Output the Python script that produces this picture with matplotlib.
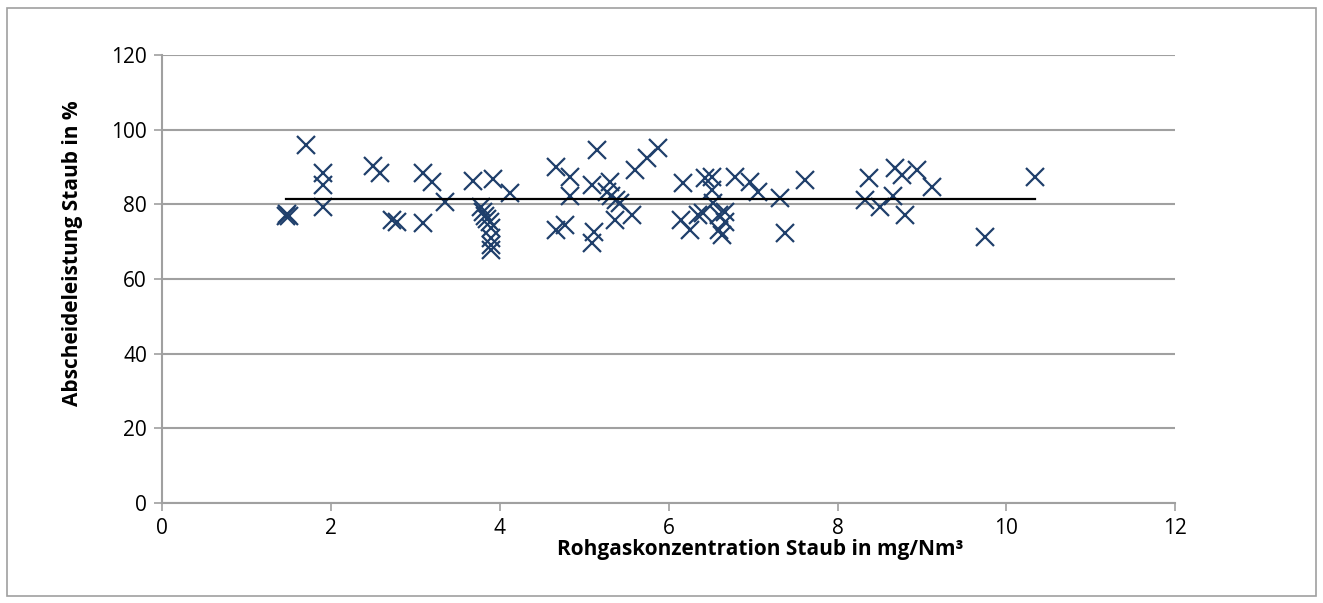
import matplotlib.pyplot as plt
import numpy as np

# Rohgaskonzentration Staub (mg/Nm3) / Abscheideleistung Staub (%)
rohgas = [1.47, 1.48, 1.50, 1.70, 1.90, 1.90, 1.90, 2.50, 2.58, 2.72, 2.78,
          3.09, 3.09, 3.19, 3.35, 3.68, 3.78, 3.80, 3.82, 3.85, 3.88, 3.90,
          3.90, 3.90, 3.90, 3.92, 4.12, 4.67, 4.83, 4.83, 4.67, 4.77, 5.09,
          5.11, 5.09, 5.15, 5.30, 5.27, 5.32, 5.38, 5.42, 5.36, 5.56, 5.60,
          5.74, 5.87, 6.17, 6.43, 6.51, 6.51, 6.79, 6.96, 7.06, 7.32, 7.62,
          7.38, 6.15, 6.25, 6.35, 6.41, 6.53, 6.59, 6.67, 6.67, 6.63, 6.60,
          8.37, 8.33, 8.50, 8.66, 8.68, 8.76, 8.94, 9.12, 8.80, 9.75, 10.34]
abscheide = [77.0, 77.5, 76.8, 96.0, 88.5, 85.2, 79.2, 90.4, 88.3, 75.8, 75.4,
             88.3, 75.1, 86.1, 80.7, 86.3, 79.2, 78.0, 77.0, 76.0, 75.4, 73.6,
             71.0, 69.1, 67.8, 86.7, 83.0, 90.1, 87.4, 82.1, 73.1, 74.5, 85.2,
             72.7, 69.6, 94.6, 86.1, 83.4, 82.1, 81.2, 80.3, 75.8, 77.1, 89.2,
             92.3, 95.0, 85.6, 87.0, 87.4, 83.8, 87.4, 86.1, 83.4, 81.6, 86.5,
             72.2, 75.8, 73.1, 77.1, 77.6, 80.3, 77.1, 78.0, 75.4, 71.8, 73.0,
             87.0, 81.2, 79.4, 82.1, 89.7, 87.9, 89.2, 84.7, 77.1, 71.3, 87.4]
mittelwert = 81.5

x_ticks = [0, 2, 4, 6, 8, 10, 12]
y_ticks = [0, 20, 40, 60, 80, 100, 120]

plt.rcParams['font.family'] = ['Open Sans', 'DejaVu Sans']
grey = '#a0a0a0'

fig = plt.figure(figsize=(13.23, 6.03), dpi=100)
ax = fig.add_axes([0.1227, 0.1658, 0.7655, 0.743])

ax.grid(axis='y', color=grey, linewidth=1.5, zorder=0)
ax.plot(rohgas, abscheide, 'x', color='#1f3f6b', markersize=13,
        markeredgewidth=1.6, linestyle='none', zorder=3)
ax.plot([min(rohgas), max(rohgas)], [mittelwert, mittelwert],
        color='black', linewidth=1.6, zorder=4)

ax.set_xlim(0, 12)
ax.set_ylim(0, 120)
ax.set_xticks(x_ticks)
ax.set_yticks(y_ticks)
ax.tick_params(direction='out', length=6, width=1.2, color=grey,
               labelsize=15, pad=5)
for s in ['top', 'right']:
    ax.spines[s].set_visible(False)
for s in ['left', 'bottom']:
    ax.spines[s].set_color(grey)
    ax.spines[s].set_linewidth(1.5)

fig.text(0.575, 0.088, 'Rohgaskonzentration Staub in mg/Nm³', ha='center',
         va='center', fontsize=15, fontweight='bold')
fig.text(0.055, 0.58, 'Abscheideleistung Staub in %', ha='center',
         va='center', rotation=90, fontsize=15, fontweight='bold')

# outer frame
fig.patches.append(plt.Rectangle((0.005, 0.012), 0.99, 0.975, fill=False,
                                 edgecolor=grey, linewidth=1.2,
                                 transform=fig.transFigure))

plt.savefig('out.png', dpi=100)
